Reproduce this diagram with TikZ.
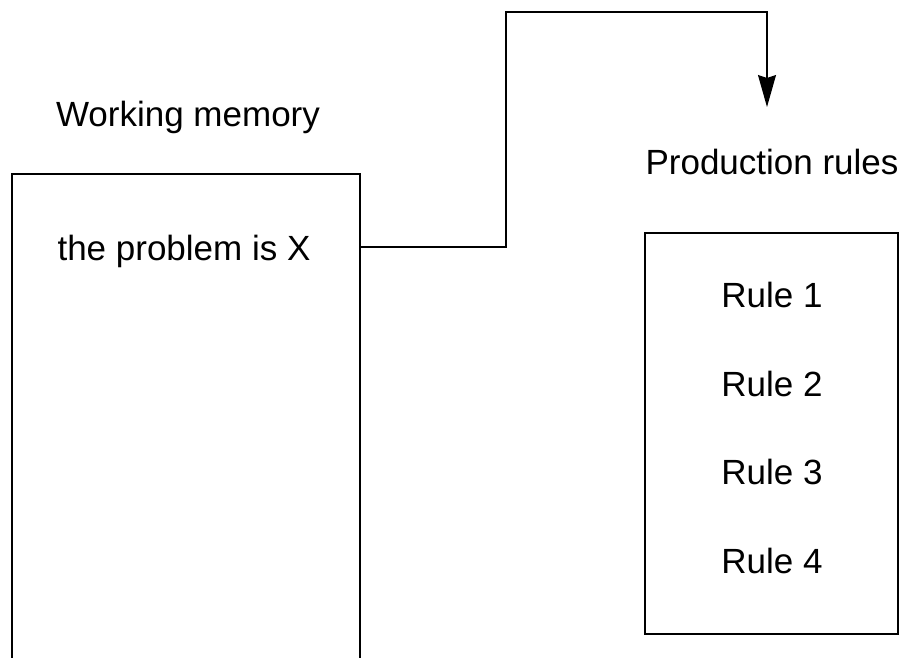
\documentclass[tikz,border=0pt]{standalone}
\usepackage{fontspec}
\setmainfont{Liberation Sans}
\usetikzlibrary{arrows.meta}

\begin{document}
\begin{tikzpicture}[x=1pt, y=-1pt, line width=1.2pt,
		bigtext/.style = {font=\fontsize{35}{42}\selectfont, inner sep=0pt, anchor=base},
		ruletext/.style = {bigtext}]
		\useasboundingbox (0,0) rectangle (910,658);
		%working memory, open at the bottom
		\draw (12,658) -- (12,174) -- (360,174) -- (360,658);
		\node[bigtext] (memtitle) at (188,127) {Working memory};
		\node[bigtext] (problem) at (184,260) {the problem is X};
		%production rules
		\draw (645,233) rectangle (898,634);
		\node[bigtext] (rulestitle) at (772,174) {Production rules};
		\foreach \n/\y in {1/307,2/396,3/484,4/573}
			\node[ruletext] (rule\n) at (772,\y) {Rule \n};
		%connector
		\coordinate (memout) at (360,247);
		\coordinate (rulesin) at (767,107);
		\draw[-{Stealth[length=32pt, width=18pt, inset=3pt]}] (memout) -| (506,12) -| (rulesin);
\end{tikzpicture}
\end{document}
